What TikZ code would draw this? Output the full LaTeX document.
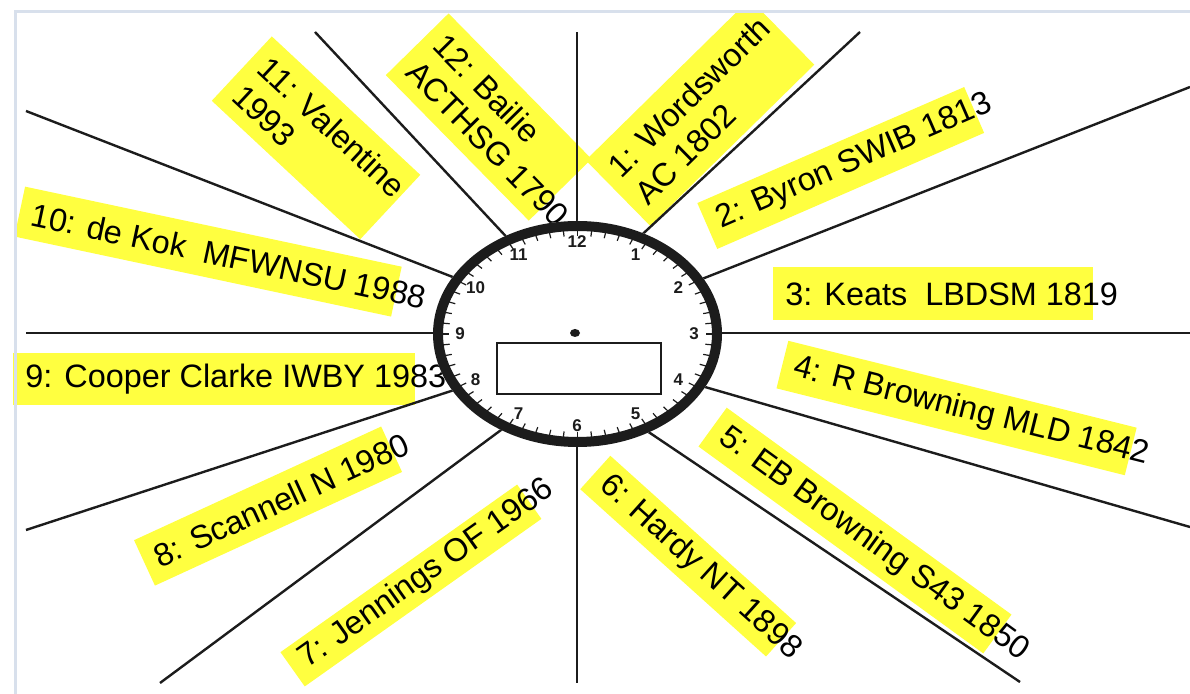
\documentclass[tikz,border=0pt]{standalone}
\usepackage{fontspec}
\setmainfont{Liberation Sans}
\usetikzlibrary{calc}
\definecolor{hl}{RGB}{255,255,64}
\definecolor{ink}{RGB}{28,28,28}
\definecolor{framec}{RGB}{216,224,236}
\pgfdeclarelayer{bgpaper}
\pgfdeclarelayer{fills}
\pgfsetlayers{bgpaper,fills,main}
\tikzset{
  labfill/.style={fill=hl},
  labtext/.style={anchor=west, inner sep=0pt, align=left, text=black,
    font=\fontsize{16.2}{19}\selectfont},
  ray/.style={draw=ink, line width=1.2pt},
  clocknum/.style={inner sep=0pt, font=\fontsize{8.5}{9}\selectfont\bfseries, text=ink},
  tick/.style={draw=ink, line width=0.6pt},
}
\newcommand{\poemlabel}[7]{%
  \begin{scope}[shift={(#2,#3)},rotate=#4]
    \begin{pgfonlayer}{fills}\fill[labfill] (0,-#6/2) rectangle (#5,#6/2);\end{pgfonlayer}
    \node[labtext,rotate=#4] (#1) at (12,0) {#7};
  \end{scope}}
\begin{document}
\begin{tikzpicture}[x=0.5pt,y=-0.5pt]
\useasboundingbox (0,0) rectangle (1190,694);
\begin{pgfonlayer}{bgpaper}\fill[white] (0,0) rectangle (1190,694);\end{pgfonlayer}

% ray end points
\coordinate (i12) at (577,221); \coordinate (o12) at (577,32);
\coordinate (i6)  at (577,447); \coordinate (o6)  at (577,683);
\coordinate (i3)  at (722,333); \coordinate (o3)  at (1190,333);
\coordinate (i9)  at (433,333); \coordinate (o9)  at (26,333);
\coordinate (i1)  at (647,230); \coordinate (o1)  at (860,32);
\coordinate (i11) at (500,230); \coordinate (o11) at (315,32);
\coordinate (i2)  at (707,277); \coordinate (o2)  at (1190,87);
\coordinate (i10) at (445,274); \coordinate (o10) at (26,111);
\coordinate (i4)  at (705,387); \coordinate (o4)  at (1190,527);
\coordinate (i5)  at (650,433); \coordinate (o5)  at (1020,682);
\coordinate (i7)  at (497,433); \coordinate (o7)  at (160,683);
\coordinate (i8)  at (445,393); \coordinate (o8)  at (26,530);
\foreach \r in {12,6,3,9,1,11,2,10,4,5,7,8}
  \draw[ray] ($(i\r)!-0.04!(o\r)$) -- (o\r);

% labels: name, left-mid x, y, angle, width, height, text
\poemlabel{l1}{618}{193.1}{44.5}{230}{92}{1: Wordsworth\\AC 1802}
\poemlabel{l2}{707.3}{226}{23.5}{291}{50}{2: Byron SWIB 1813}
\poemlabel{l3}{773}{294}{0}{320}{53}{3: Keats\ \ LBDSM 1819}
\poemlabel{l4}{782.4}{364.6}{-14}{359}{49}{4: R Browning MLD 1842}
\poemlabel{l5}{712.6}{427.1}{-36}{352}{48}{5: EB Browning S43 1850}
\poemlabel{l6}{595.3}{472.5}{-42}{250}{45}{6: Hardy NT 1898}
\poemlabel{l7}{292.6}{669.3}{35.3}{290}{42}{7: Jennings OF 1966}
\poemlabel{l8}{144.5}{562.9}{24.7}{272}{50}{8: Scannell N 1980}
\poemlabel{l9}{13}{379}{0}{402}{52}{9: Cooper Clarke IWBY 1983}
\poemlabel{l10}{19.8}{211.6}{-12}{385}{51}{10: de Kok\ \ MFWNSU 1988}
\poemlabel{l11}{241.8}{68.6}{-43}{203}{88}{11: Valentine\\1993}
\poemlabel{l12}{417.2}{44.3}{-45.5}{204}{88}{12: Bailie\\ACTHSG 1790}

% clock
\fill[white] (577.5,334) ellipse [x radius=144.5, y radius=113];
\draw[ink, line width=5pt] (577.5,334) ellipse [x radius=139.5, y radius=108];
\foreach \i in {0,...,59}
  \draw[tick] ({577.5+135*cos(6*\i)},{334+103.5*sin(6*\i)}) -- ({577.5+128.5*cos(6*\i)},{334+98*sin(6*\i)});
\foreach \h in {1,...,12}
  \node[clocknum] (n\h) at ({577+117*cos(90-30*\h)},{334-92*sin(90-30*\h)}) {\h};
\fill[ink] (575,333) ellipse [x radius=5, y radius=4];
\node[draw=ink, line width=1pt, minimum width=82pt, minimum height=25.5pt, inner sep=0pt] (display) at (579,368.5) {};

% frame
\fill[white] (0,0) rectangle (1190,11);
\draw[framec, line width=1.5pt] (15,694) -- (15,12) -- (1190,12);
\end{tikzpicture}
\end{document}
